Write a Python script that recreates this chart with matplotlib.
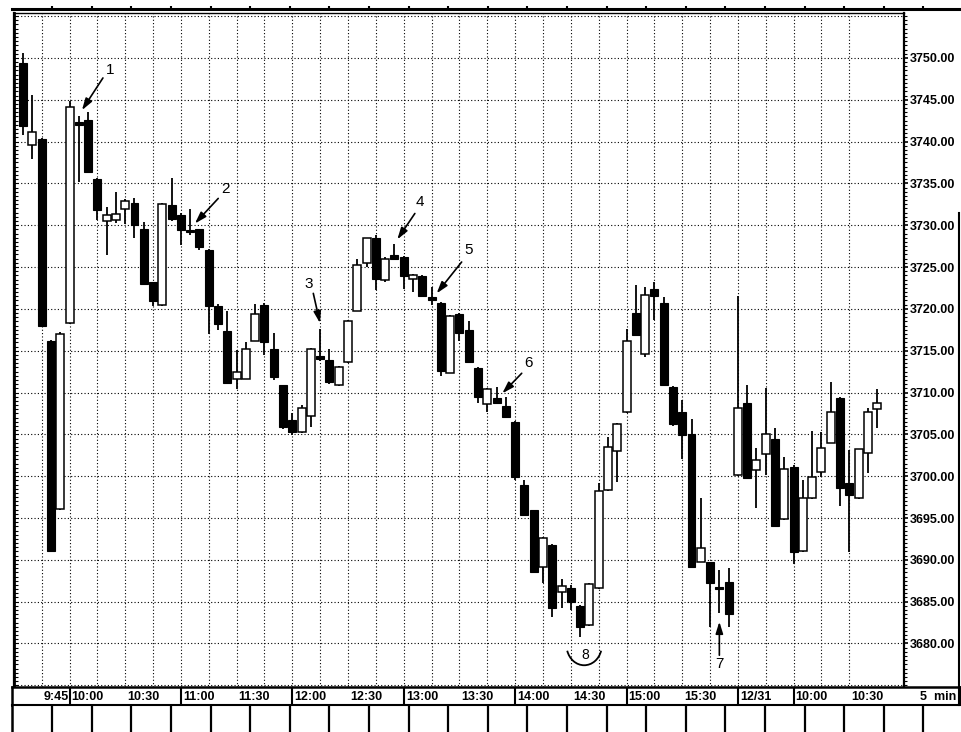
import matplotlib
matplotlib.use('Agg')
import matplotlib.pyplot as plt
from matplotlib.patches import Arc
from matplotlib.lines import Line2D
import numpy as np

# ---------------- data (5-min bars, two sessions) ----------------
opens = [3749.4, 3739.6, 3740.25, 3716.1, 3696.1, 3718.3, 3742.3, 3742.6, 3735.5, 3730.5,
         3730.6, 3731.9, 3732.6, 3729.6, 3723.2, 3720.5, 3732.4, 3731.2, 3729.3, 3729.5,
         3727.0, 3720.4, 3717.3, 3711.6, 3711.6, 3716.1, 3720.5, 3715.2, 3710.9, 3706.7,
         3705.3, 3707.2, 3714.4, 3713.9, 3710.9, 3713.6, 3719.8, 3725.5, 3728.5, 3723.5,
         3726.4, 3726.2, 3723.6, 3723.9, 3721.4, 3720.7, 3712.3, 3719.4, 3717.5, 3712.9,
         3708.6, 3709.4, 3708.4, 3706.5, 3698.9, 3696.0, 3689.1, 3691.8, 3686.2, 3686.6,
         3684.5, 3682.2, 3686.6, 3698.4, 3703.0, 3707.7, 3719.5, 3714.6, 3722.4, 3720.7,
         3710.7, 3707.7, 3705.0, 3689.8, 3689.7, 3686.7, 3687.4,
         3700.1, 3708.8, 3700.7, 3702.7, 3704.5, 3694.9, 3701.1, 3691.0, 3697.4, 3700.5,
         3704.0, 3709.3, 3699.2, 3697.4, 3702.8, 3708.0]
highs = [3750.6, 3745.6, 3740.4, 3716.3, 3717.2, 3744.9, 3743.0, 3743.5, 3735.6, 3732.2,
         3734.0, 3733.1, 3733.3, 3730.4, 3723.2, 3732.7, 3735.6, 3731.5, 3731.9, 3729.5,
         3727.1, 3720.6, 3719.7, 3715.1, 3716.0, 3720.6, 3720.7, 3717.1, 3710.9, 3707.5,
         3708.5, 3715.3, 3717.6, 3715.2, 3713.2, 3718.7, 3725.9, 3728.5, 3728.8, 3726.2,
         3727.8, 3726.3, 3724.2, 3724.0, 3722.6, 3720.8, 3719.3, 3719.5, 3718.5, 3713.0,
         3710.5, 3710.6, 3709.5, 3706.6, 3699.6, 3696.0, 3692.7, 3691.9, 3687.7, 3687.0,
         3684.6, 3687.2, 3699.2, 3704.7, 3706.3, 3717.6, 3722.8, 3722.6, 3723.2, 3721.4,
         3710.8, 3709.1, 3706.8, 3697.4, 3689.8, 3688.8, 3689.0,
         3721.5, 3710.9, 3703.4, 3710.5, 3705.7, 3702.3, 3701.3, 3699.5, 3705.4, 3705.3,
         3711.2, 3709.5, 3703.1, 3703.3, 3708.1, 3710.4]
lows = [3740.8, 3737.9, 3717.9, 3691.0, 3696.0, 3718.2, 3735.2, 3736.3, 3730.6, 3726.4,
        3730.3, 3730.2, 3728.5, 3723.0, 3720.3, 3720.4, 3730.5, 3727.6, 3728.8, 3727.0,
        3717.0, 3717.5, 3711.1, 3710.4, 3711.6, 3716.1, 3714.5, 3711.5, 3705.6, 3704.9,
        3705.2, 3705.9, 3713.8, 3711.0, 3710.8, 3713.5, 3719.8, 3725.0, 3722.2, 3723.2,
        3725.8, 3722.4, 3722.0, 3721.5, 3720.5, 3712.0, 3712.3, 3716.1, 3713.5, 3708.8,
        3707.7, 3708.6, 3707.0, 3699.6, 3695.3, 3688.5, 3687.2, 3683.2, 3684.2, 3684.0,
        3680.8, 3682.1, 3686.5, 3698.2, 3699.3, 3707.5, 3716.9, 3714.2, 3718.7, 3710.9,
        3706.0, 3702.1, 3689.0, 3689.7, 3682.0, 3683.6, 3682.0,
        3700.0, 3699.7, 3696.2, 3700.1, 3694.0, 3694.8, 3689.5, 3690.9, 3697.3, 3699.9,
        3704.0, 3696.4, 3690.9, 3697.3, 3700.4, 3705.7]
closes = [3741.8, 3741.1, 3718.0, 3691.0, 3717.0, 3744.1, 3742.0, 3736.3, 3731.8, 3731.2,
          3731.3, 3732.9, 3730.0, 3723.0, 3720.9, 3732.5, 3730.8, 3729.4, 3729.2, 3727.4,
          3720.3, 3718.2, 3711.1, 3712.4, 3715.2, 3719.4, 3716.0, 3711.9, 3705.9, 3705.3,
          3708.1, 3715.2, 3714.0, 3711.2, 3713.0, 3718.5, 3725.2, 3728.5, 3723.6, 3725.9,
          3725.9, 3723.9, 3724.0, 3721.5, 3721.1, 3712.6, 3719.2, 3717.1, 3713.6, 3709.5,
          3710.4, 3708.7, 3707.1, 3699.9, 3695.4, 3688.5, 3692.6, 3684.2, 3686.9, 3685.0,
          3682.0, 3687.1, 3698.2, 3703.5, 3706.2, 3716.1, 3716.9, 3721.7, 3721.5, 3710.9,
          3706.2, 3704.9, 3689.1, 3691.4, 3687.2, 3686.5, 3683.5,
          3708.1, 3699.8, 3701.9, 3705.0, 3694.0, 3700.9, 3690.9, 3697.4, 3699.9, 3703.4,
          3707.7, 3698.6, 3697.8, 3703.2, 3707.7, 3708.7]

# time-axis labels (bar index -> label)
tick_idx = [2, 5, 11, 17, 23, 29, 35, 41, 47, 53, 59, 65, 71, 77, 83, 89]
tick_labels = ['9:45', '10:00', '10:30', '11:00', '11:30', '12:00', '12:30', '13:00',
               '13:30', '14:00', '14:30', '15:00', '15:30', '12/31', '10:00', '10:30']
separator_idx = [5, 17, 29, 41, 53, 65, 77, 83]
price_ticks = [3680, 3685, 3690, 3695, 3700, 3705, 3710, 3715, 3720, 3725, 3730, 3735,
               3740, 3745, 3750]

# annotations: label, text pos, arrow tail, arrow head (bar index, price)
notes = [('1', (9.33, 3748.6), (8.6, 3747.6), (6.34, 3743.75)),
         ('2', (21.85, 3734.3), (21.02, 3733.2), (18.51, 3730.2)),
         ('3', (30.8, 3723.0), (31.26, 3721.85), (31.98, 3718.3)),
         ('4', (42.75, 3732.8), (42.2, 3731.4), (40.31, 3728.3)),
         ('5', (48.03, 3727.0), (47.24, 3725.6), (44.55, 3721.85)),
         ('6', (54.44, 3713.5), (53.71, 3712.3), (51.62, 3709.9)),
         ('7', (75.0, 3677.5), (75.0, 3678.6), (75.0, 3682.6))]

# ---------------- figure ----------------
W, H = 962, 732
fig = plt.figure(figsize=(W / 100, H / 100), dpi=100)
FONT = ['Liberation Sans', 'DejaVu Sans']
plt.rcParams['font.family'] = FONT


def px_axes(x0, y0, x1, y1):
    return fig.add_axes([x0 / W, 1 - y1 / H, (x1 - x0) / W, (y1 - y0) / H])


X0, X1 = 14, 904
XL, XR = -0.98, 94.89
ax = px_axes(X0, 12.7, X1, 687)
ax.set_xlim(XL, XR)
ax.set_ylim(3674.8, 3755.4)

o = np.array(opens); h = np.array(highs); l = np.array(lows); c = np.array(closes)
idx = np.arange(len(o))
up = c >= o

# grid
grid_x = np.arange(2, 90, 3)
for gx in grid_x:
    ax.axvline(gx, color='k', lw=0.8, ls=(0, (1, 2)), zorder=0)
for gy in range(3675, 3756, 5):
    ax.axhline(gy, color='k', lw=0.8, ls=(0, (1, 2)), zorder=0)

# candles
ax.vlines(idx, l, h, color='k', lw=1.3, zorder=2)
bw = 0.86
bottoms = np.minimum(o, c)
heights = np.maximum(np.abs(c - o), 0.18)
ax.bar(idx[~up], heights[~up], bw, bottom=bottoms[~up], color='k', edgecolor='k',
       lw=0.8, zorder=3)
ax.bar(idx[up], heights[up], bw, bottom=bottoms[up], color='white', edgecolor='k',
       lw=1.1, zorder=3)

# annotations
for lab, tpos, tail, head in notes:
    ax.text(tpos[0], tpos[1], lab, fontsize=11, ha='center', va='center', zorder=5)
    ax.annotate('', xy=head, xytext=tail,
                arrowprops=dict(arrowstyle='-|>,head_length=0.7,head_width=0.22',
                                color='k', lw=1.2, shrinkA=0, shrinkB=0,
                                mutation_scale=10), zorder=5)
ax.text(60.53, 3678.6, '8', fontsize=10, ha='center', va='center', zorder=5)
ax.add_patch(Arc((60.44, 3679.8), 3.8, 4.8, theta1=200, theta2=340, color='k', lw=1.3))

# axes styling
ax.set_xticks([])
ax.yaxis.tick_right()
ax.set_yticks(price_ticks, labels=[f'{v:.2f}' for v in price_ticks])
ax.set_yticks(np.arange(3675, 3755.5, 0.5), minor=True)
ax.tick_params(axis='y', which='major', direction='out', length=3, width=1.2, pad=1,
               labelsize=9)
ax.tick_params(axis='y', which='minor', direction='out', length=2, width=0.8)
for t in ax.get_yticklabels():
    t.set_fontweight('bold')
for s in ax.spines.values():
    s.set_linewidth(1.6)
ax.spines['top'].set_linewidth(1.0)
ax.spines['bottom'].set_visible(False)

sec = ax.secondary_yaxis('left')
sec.set_yticks(np.arange(3675, 3755.5, 0.5))
sec.tick_params(axis='y', direction='in', length=3, width=0.8, labelleft=False)
sec.spines['left'].set_linewidth(2.0)

# time label band
band = px_axes(12, 687, 960, 705)
bl = XL - 2 / 9.283
br = XR + 56 / 9.283
band.set_xlim(bl, br)
band.set_ylim(0, 1)
band.set_xticks([]); band.set_yticks([])
for s in band.spines.values():
    s.set_linewidth(1.8)
for si in separator_idx:
    band.axvline(si, color='k', lw=1.5)
for ti, tl in zip(tick_idx, tick_labels):
    band.text(ti + 0.22, 0.45, tl, fontsize=9, fontweight='bold', ha='left', va='center')
band.text(XR + 1.7, 0.45, '5  min', fontsize=9, fontweight='bold', ha='left', va='center')

# lower panel (cut off)
low = px_axes(12, 705, 962, 740)
low.set_xlim(12, 962); low.set_ylim(0, 1)
low.set_xticks([]); low.set_yticks([])
for s in ['bottom', 'right']:
    low.spines[s].set_visible(False)
low.spines['left'].set_linewidth(1.8)
low.spines['top'].set_linewidth(1.5)
for k in range(23):
    low.axvline(52.3 + 39.6 * k, color='k', lw=1.6)

# upper panel (cut off)
top = px_axes(12, -10, 962, 9)
top.set_xlim(12, 962); top.set_ylim(0, 19)
top.set_xticks([]); top.set_yticks([])
for s in ['top', 'right', 'left']:
    top.spines[s].set_visible(False)
top.spines['bottom'].set_linewidth(2.2)
top.vlines([52.3 + 39.6 * k for k in range(23)], 0, 3, color='k', lw=1.5)

# right outer border of the page
fig.add_artist(Line2D([959.5 / W, 959.5 / W], [1 - 705 / H, 1 - 213 / H],
                      transform=fig.transFigure, color='k', lw=1.5))

fig.savefig('out.png', dpi=100)
